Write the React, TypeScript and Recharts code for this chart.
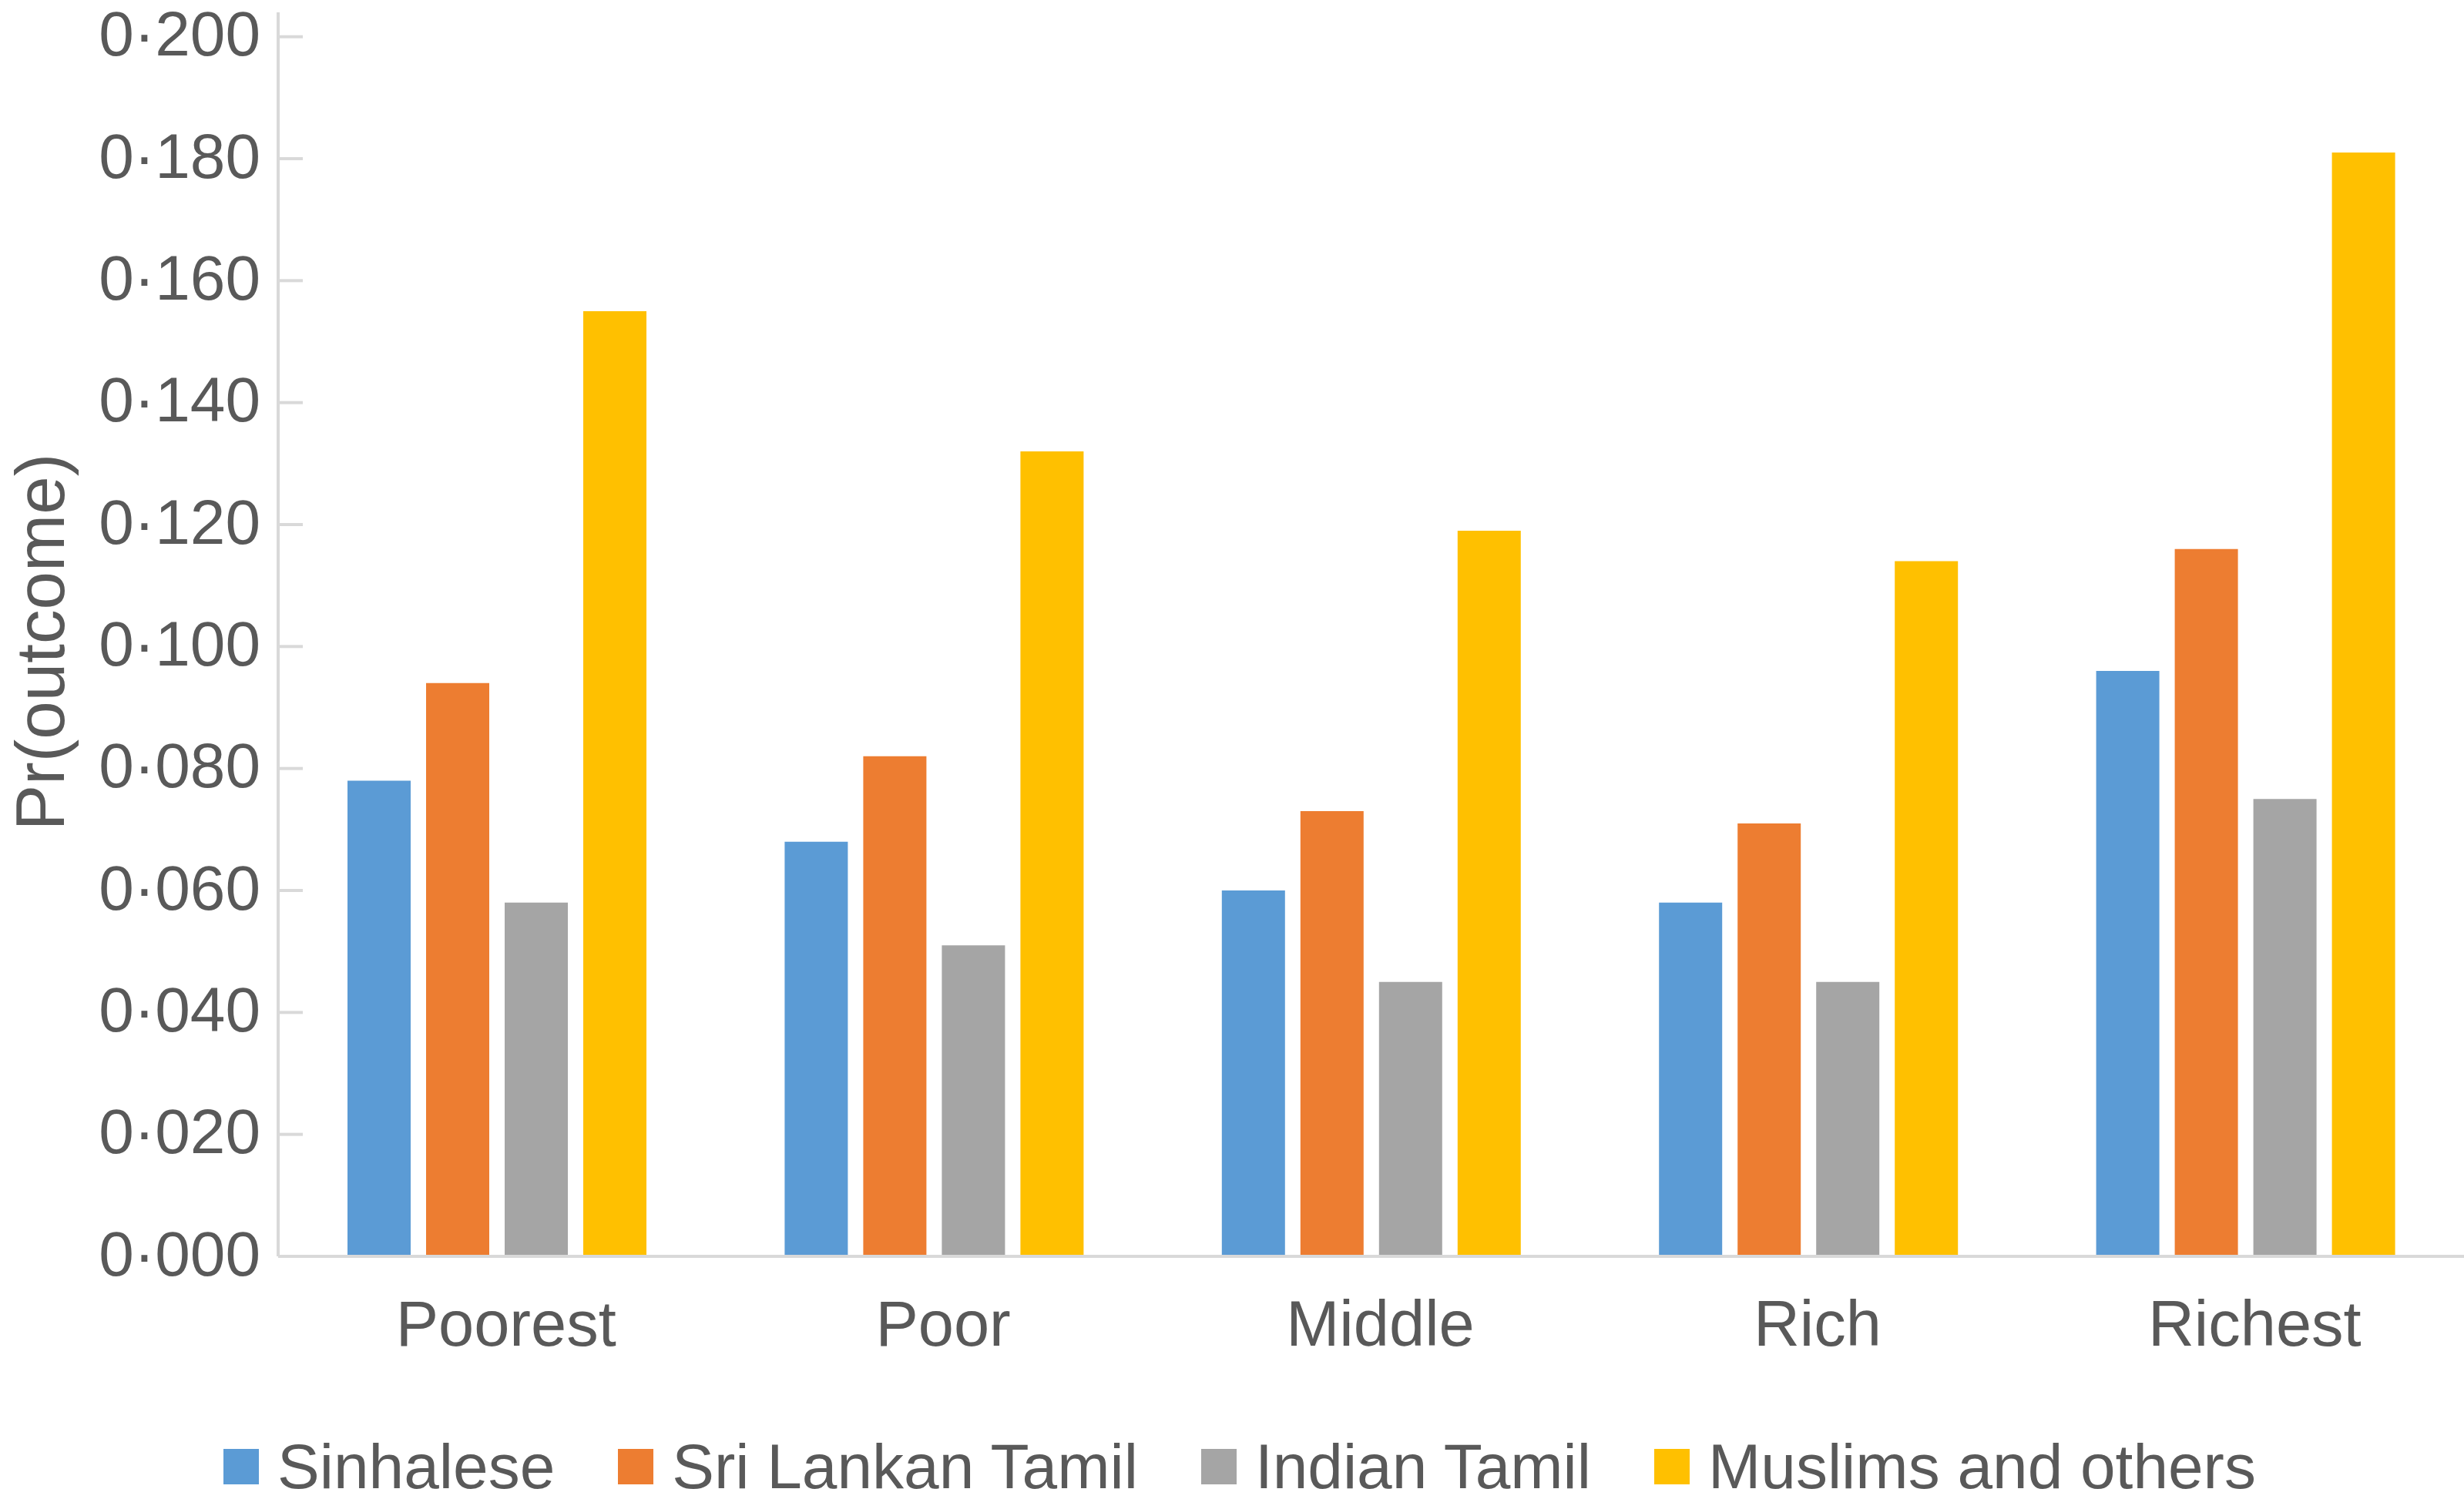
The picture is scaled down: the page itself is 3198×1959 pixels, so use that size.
import { Bar, BarChart, Label, Legend, XAxis, YAxis } from 'recharts'

const categories = ['Poorest', 'Poor', 'Middle', 'Rich', 'Richest']

const sinhalese = [0.078, 0.068, 0.06, 0.058, 0.096]
const sriLankanTamil = [0.094, 0.082, 0.073, 0.071, 0.116]
const indianTamil = [0.058, 0.051, 0.045, 0.045, 0.075]
const muslimsAndOthers = [0.155, 0.132, 0.119, 0.114, 0.181]

const yTicks = [0, 0.02, 0.04, 0.06, 0.08, 0.1, 0.12, 0.14, 0.16, 0.18, 0.2]

const series = [
  { key: 'sinhalese', name: 'Sinhalese', color: '#5B9BD5', values: sinhalese },
  { key: 'sriLankanTamil', name: 'Sri Lankan Tamil', color: '#ED7D31', values: sriLankanTamil },
  { key: 'indianTamil', name: 'Indian Tamil', color: '#A5A5A5', values: indianTamil },
  { key: 'muslimsAndOthers', name: 'Muslims and others', color: '#FFC000', values: muslimsAndOthers },
]

const data = categories.map((category, i) => {
  const row: Record<string, string | number> = { category }
  series.forEach((s) => {
    row[s.key] = s.values[i]
  })
  return row
})

const TEXT = '#595959'
const AXIS = '#D9D9D9'
const FONT = '"Liberation Sans", Arial, Helvetica, sans-serif'

const formatTick = (v: number) => v.toFixed(3).replace('.', '\u00B7')

function YTick({ x, y, payload }: any) {
  return (
    <g>
      <line x1={x} x2={x + 32} y1={y} y2={y} stroke={AXIS} strokeWidth={4} />
      <text x={x - 23} y={y} dy="0.3em" textAnchor="end" fill={TEXT} fontSize={82} fontFamily={FONT}>
        {formatTick(payload.value)}
      </text>
    </g>
  )
}

function ChartLegend() {
  return (
    <div
      style={{
        display: 'flex',
        justifyContent: 'center',
        alignItems: 'center',
        height: 82,
        paddingLeft: 20,
        fontFamily: FONT,
        fontSize: 82,
        lineHeight: 1,
        color: TEXT,
      }}
    >
      {series.map((s, i) => (
        <div
          key={s.key}
          style={{ display: 'flex', alignItems: 'center', marginLeft: i === 0 ? 0 : 82 }}
        >
          <span style={{ width: 46, height: 46, background: s.color, marginRight: 24, display: 'inline-block' }} />
          <span style={{ whiteSpace: 'nowrap' }}>{s.name}</span>
        </div>
      ))}
    </div>
  )
}

export default function App() {
  return (
    <div style={{ position: 'absolute', left: 0, top: 0, background: '#fff' }}>
      <BarChart
        width={3198}
        height={1959}
        data={data}
        barSize={82}
        barGap={20}
        margin={{ top: 16, right: 0, bottom: 14, left: 0 }}
      >
        <XAxis
          dataKey="category"
          height={232}
          axisLine={{ stroke: AXIS, strokeWidth: 4 }}
          tickLine={false}
          tickSize={0}
          tickMargin={57}
          tick={{ fill: TEXT, fontSize: 83, fontFamily: FONT, dx: 12 }}
        />
        <YAxis
          width={361}
          domain={[0, 0.204]}
          ticks={yTicks}
          allowDataOverflow
          axisLine={{ stroke: AXIS, strokeWidth: 4 }}
          tickLine={false}
          tickSize={0}
          tickMargin={0}
          tick={<YTick />}
        >
          <Label
            content={({ viewBox }: any) => {
              const cy = viewBox.y + viewBox.height / 2 + 10
              return (
                <text
                  x={0}
                  y={0}
                  transform={`translate(83, ${cy}) rotate(-90)`}
                  textAnchor="middle"
                  fill={TEXT}
                  fontSize={89}
                  fontFamily={FONT}
                >
                  Pr(outcome)
                </text>
              )
            }}
          />
        </YAxis>
        <Legend verticalAlign="bottom" align="center" content={<ChartLegend />} />
        {series.map((s) => (
          <Bar key={s.key} dataKey={s.key} name={s.name} fill={s.color} isAnimationActive={false} />
        ))}
      </BarChart>
    </div>
  )
}
